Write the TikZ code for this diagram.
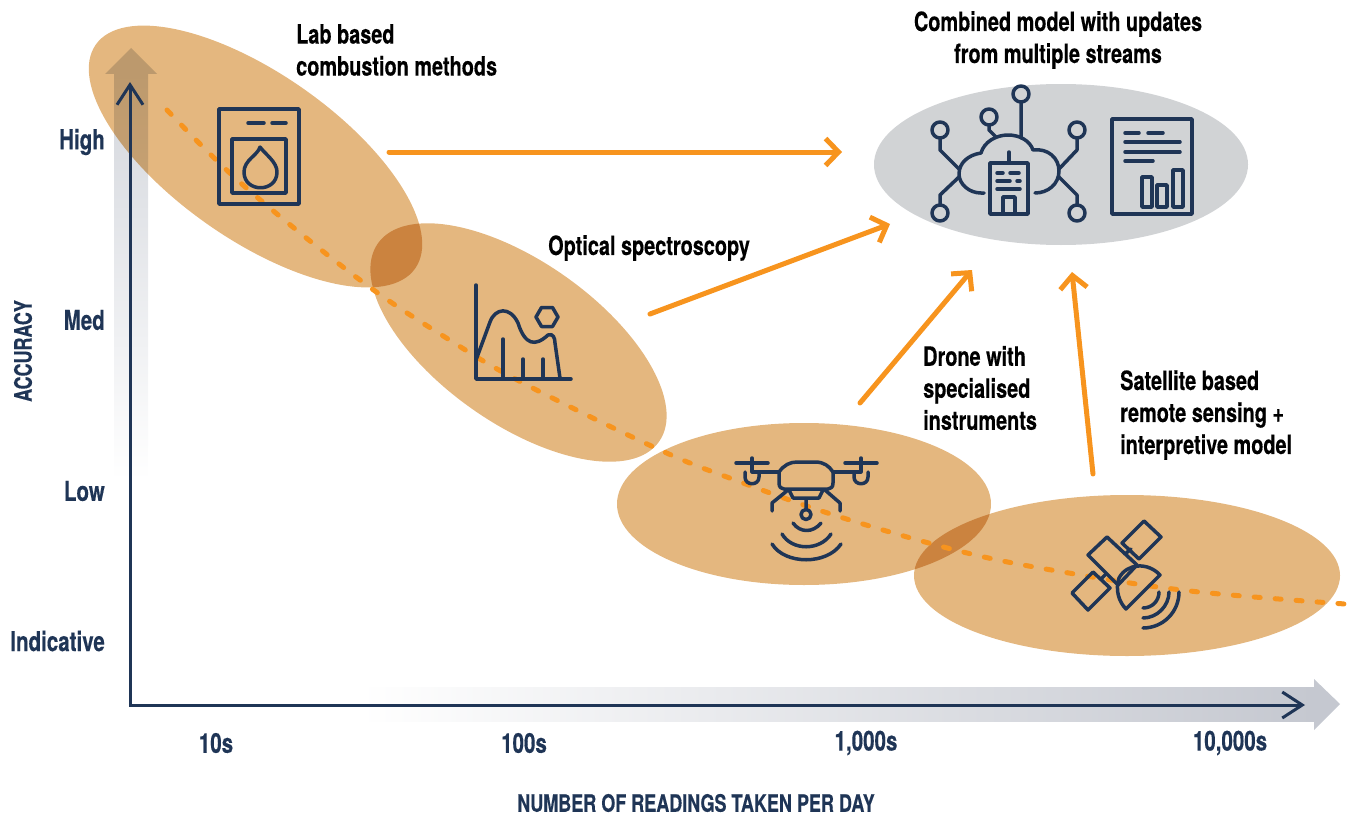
\documentclass[tikz,border=0pt]{standalone}
\usepackage{fontspec}
\setmainfont[FakeStretch=0.75,BoldFeatures={FakeStretch=0.75,FakeBold=0.3}]{TeX Gyre Heros}
\usetikzlibrary{positioning, arrows.meta, shapes.geometric}
\definecolor{navy}{HTML}{1F3556}
\definecolor{tan}{HTML}{E4B77F}
\definecolor{cloudgrey}{HTML}{D1D3D5}
\definecolor{arrowgrey}{HTML}{C5C8D0}
\definecolor{uparrowgrey}{HTML}{D3D6DC}
\definecolor{flow}{HTML}{F7941E}
\begin{document}
\begin{tikzpicture}[
        x=1pt, y=-1pt,
        blob/.style={% For the big tinted ellipses
            ellipse,
            fill=tan,
            inner sep=0pt,
            },
        note/.style={% Black notes next to the ellipses
            font=\fontsize{26.5}{32}\selectfont\bfseries,
            align=left,
            anchor=west,
            inner sep=0pt,
            },
        tick/.style={% For the labels on the axes
            font=\fontsize{27.4}{30}\selectfont\bfseries,
            text=navy,
            inner sep=0pt,
            },
        axislabel/.style={% Capitals along the axes
            tick,
            font=\fontsize{24}{30}\selectfont\bfseries,
            },
        icon/.style={% Line work of the icons
            navy,
            line width=3.5pt,
            line cap=round,
            line join=round,
            },
        flowarrow/.style={% Thick orange arrows
            flow,
            line width=5pt,
            line cap=round,
            -{Straight Barb[length=13pt,width=27pt,line width=5pt]},
            },
        axis/.style={%
            navy,
            line width=3pt,
            {Straight Barb[length=20pt,width=26pt,line width=3pt]}-{Straight Barb[length=20pt,width=26pt,line width=3pt]},
            },
            ]
        \useasboundingbox (0,0) rectangle (1349,816);
        % Draw the wide faded arrows
        \shade[bottom color=white, top color=uparrowgrey] (114,480) rectangle (148,74);
        \fill[uparrowgrey] (105,74) -- (131,48) -- (157,74) -- cycle;
        \shade[left color=white, right color=arrowgrey] (360,687) rectangle (1314,721);
        \fill[arrowgrey] (1314,679) -- (1340,704) -- (1314,730) -- cycle;
        % Draw the ellipses
        \begin{scope}[blend mode=multiply]
            \node[blob, rotate=-35, minimum width=390pt, minimum height=166pt] (lab) at (255.5,156.5) {};
            \node[blob, rotate=-35.2, minimum width=344pt, minimum height=162pt] (optical) at (518.5,342.5) {};
            \node[blob, minimum width=374pt, minimum height=162pt] (drone) at (804,504) {};
            \node[blob, minimum width=426pt, minimum height=161pt] (satellite) at (1127,575.5) {};
        \end{scope}
        \node[ellipse, fill=cloudgrey, inner sep=0pt, minimum width=374pt, minimum height=161pt] (combined) at (1061,164.5) {};
        % The dashed trend
        \draw[flow, line width=5pt, line cap=round, dash pattern=on 6pt off 15pt]
            plot[smooth, tension=0.6] coordinates {(167,110) (243,185) (360,280) (448,339) (523,383) (660,450) (735,480) (837,516) (963,552) (1063,572) (1190,591) (1345,604)};
        % Start connecting all.
        \coordinate (ytop) at (130,82);
        \coordinate (origin) at (130,705);
        \coordinate (xtop) at (1305,705);
        \draw[axis] (ytop) -- (origin) -- (xtop);
        \coordinate (f1) at (389,152);
        \coordinate (t1) at (842,152);
        \coordinate (f2) at (650,314);
        \coordinate (t2) at (890,224);
        \coordinate (f3) at (860,403);
        \coordinate (t3) at (972,270);
        \coordinate (f4) at (1093,474);
        \coordinate (t4) at (1072,272);
        \foreach \X in {1,2,3,4}
        {\draw[flowarrow] (f\X) -- (t\X);}
        % Oven icon
        \draw[icon] (219,109) rectangle (299,204) (232,139) rectangle (286,193);
        \draw[icon] (248,123) -- (264,123) (272,123) -- (286,123);
        \draw[icon] (260,147) .. controls (258,155) and (244,160) .. (244,172)
            .. controls (244,193) and (277,193) .. (277,172) .. controls (277,162) and (266,155) .. (260,147);
        % Chart icon
        \draw[icon] (476,285) -- (476,379) -- (571,379);
        \draw[icon] (503,339) -- (503,379) (523,359) -- (523,379) (543,359) -- (543,379);
        \draw[icon] (476,360) -- (490,322) .. controls (495,308) and (510,306) .. (518,323)
            .. controls (525,345) and (535,347) .. (548,335) .. controls (553,333) and (555,338) .. (555,343) -- (560,378);
        \draw[icon] (536,317) -- (541.5,307.5) -- (552.5,307.5) -- (558,317) -- (552.5,326.5) -- (541.5,326.5) -- cycle;
        % Drone icon
        \draw[icon] (779,472) .. controls (784,465) and (790,462) .. (797,462) -- (815,462)
            .. controls (824,462) and (829,466) .. (833,472) -- (833,483) .. controls (833,487) and (831,489) .. (828,489)
            -- (784,489) .. controls (781,489) and (779,487) .. (779,483) -- cycle;
        \draw[icon] (789,490) -- (793,498) -- (819,498) -- (823,490) (806,498) -- (806,509);
        \draw[icon] (806,514.5) circle (5);
        \draw[icon] (788,490) -- (772,503) -- (772,511) (825,490) -- (840,503) -- (840,511);
        \foreach \P/\Q in {752/779,861/833}
        {\draw[icon] (\P,472) -- (\Q,472) (\P,458) -- (\P,472);
         \draw[icon] (\P-16,463) -- (\P+16,463);
         \draw[icon] (\P-7,472) -- (\P-7,477) .. controls (\P-7,486) and (\P+7,486) .. (\P+7,477) -- (\P+7,472);}
        \draw[icon] (793,523) .. controls (800,533) and (813,533) .. (821,523);
        \draw[icon] (782,534) .. controls (792,551) and (820,551) .. (831,534);
        \draw[icon] (772,544) .. controls (785,565) and (827,565) .. (841,544);
        % Satellite icon
        \draw[icon] (1107,537) -- (1088,555) -- (1118,585) -- (1137,565) -- cycle;
        \draw[icon] (1144,521) -- (1161,537) -- (1139,559) -- (1122,543) -- cycle;
        \draw[icon] (1093,572) -- (1110,588) -- (1088,610) -- (1072,593) -- cycle;
        \draw[icon] (1125,554) -- (1131,549) (1106,574) -- (1101,579);
        \draw[icon] (1160,575) .. controls (1148,562) and (1127,563) .. (1119,578)
            .. controls (1115,590) and (1119,602) .. (1126,609) -- cycle;
        \foreach \R/\K in {16/9,26/14,36/20}
        {\draw[icon] (1143+\R,592) .. controls (1143+\R,592+\K) and (1143+\K,592+\R) .. (1143,592+\R);}
        % Cloud icon
        \draw[icon] (984,193) -- (981,193) .. controls (969,193) and (959,184) .. (959,174)
            .. controls (959,163) and (968,155) .. (981,153)
            .. controls (984,142) and (996,135) .. (1008,135)
            .. controls (1020,135) and (1030,141) .. (1033,150)
            .. controls (1048,148) and (1059,158) .. (1059,171)
            .. controls (1059,184) and (1048,193) .. (1035,193);
        \draw[icon] (990,163) rectangle (1028,214);
        \draw[icon] (1009,152) -- (1009,163);
        \draw[icon] (1003,214) -- (1003,197) -- (1015,197) -- (1015,214);
        \draw[icon] (997,173) -- (1003,173) (1010,173) -- (1019,173) (997,181) -- (1010,181) (1017,181) -- (1020,181) (997,189) -- (1020,189);
        \foreach \P/\C/\Y/\E in {940/130/150/959,940/213/195/959,1077/130/150/1059,1077/213/195/1059}
        {\draw[icon] (\P,\C) circle (8);
         \ifnum\C=130 \draw[icon] (\P,138) -- (\P,\Y) -- (\E,169);
         \else \draw[icon] (\P,205) -- (\P,\Y) -- (\E,177); \fi}
        \draw[icon] (1021,94) circle (8) (1021,102) -- (1021,138);
        \draw[icon] (989,117) circle (8) (989,125) -- (989,130) -- (996,137);
        % Report icon
        \draw[icon] (1112,119) rectangle (1192,214);
        \draw[icon] (1125,133) -- (1139,133) (1148,133) -- (1163,133);
        \draw[icon] (1125,142) -- (1180,142) (1125,152) -- (1180,152) (1125,161) -- (1153,161);
        \draw[icon] (1142,177) rectangle (1152,207) (1157,185) rectangle (1167,207) (1173,170) rectangle (1183,207);
        % Notes
        \node[note] (labtext) at (296,50) {Lab based\\combustion methods};
        \node[note, anchor=center, align=center] (combinedtext) at (1058,40) {Combined model with updates\\from multiple streams};
        \node[note] (opticaltext) at (548,248) {Optical spectroscopy};
        \node[note] (dronetext) at (923,388) {Drone with\\specialised\\instruments};
        \node[note] (sattext) at (1120,415) {Satellite based\\remote sensing +\\interpretive model};
        % Axis labels
        \node[tick, anchor=east] (high) at (105,142) {High};
        \node[tick, anchor=east] (med) at (105,320) {Med};
        \node[tick, anchor=east] (low) at (105,491) {Low};
        \node[tick, anchor=east] (indicative) at (105,641) {Indicative};
        \node[tick] (ten) at (216,743) {10s};
        \node[tick] (hundred) at (524,743) {100s};
        \node[tick] (thousand) at (866,743) {1,000s};
        \node[tick] (tenthousand) at (1230,743) {10,000s};
        \node[axislabel, rotate=90] (ylabel) at (23,351) {ACCURACY};
        \node[axislabel] (xlabel) at (696,803) {NUMBER OF READINGS TAKEN PER DAY};
        \end{tikzpicture}
\end{document}
